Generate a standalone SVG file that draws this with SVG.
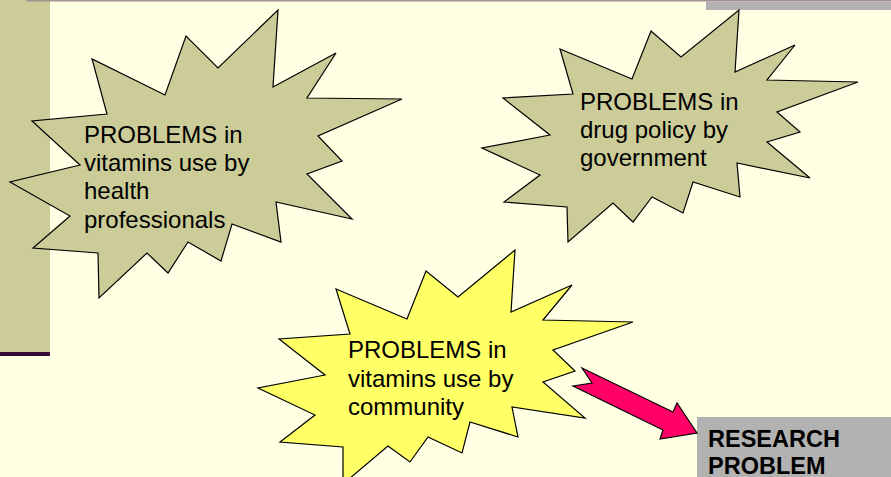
<svg xmlns="http://www.w3.org/2000/svg" width="891" height="477" viewBox="0 0 891 477">
  <style>
    .burst { stroke: #000000; stroke-width: 1.2; stroke-linejoin: miter; }
    .olive { fill: #CCCC99; }
    .lemon { fill: #FFFF66; }
    .label { font-family: "Liberation Sans", Arial, sans-serif; font-size: 24px; fill: #000000; }
    .title { font-family: "Liberation Sans", Arial, sans-serif; font-size: 23.5px; font-weight: bold; fill: #000000; }
  </style>

  <!-- slide background and frame -->
  <rect x="0" y="0" width="891" height="477" fill="#FFFFE4"/>
  <rect x="0" y="0" width="50" height="352" fill="#CCCC99"/>
  <rect x="0" y="352" width="50" height="4" fill="#3A0A3A"/>
  <rect x="26" y="0" width="865" height="1.5" fill="#A39393"/>
  <rect x="706" y="1.5" width="185" height="8.5" fill="#B2B2B2"/>

  <g id="burst-health-professionals">
    <polygon class="burst olive" points="278,10 273,87 336,53 307,98 402,99 318,136 342,161 307,174 352,219 276,202 281,242 232,224 221,261 188,242 168,273 147,253 99,298 98,253 33,248 70,216 10,182 80,165 32,121 107,114 92,59 165,95 186,36 218,68"/>
    <text class="label" x="84" y="143">PROBLEMS in</text>
    <text class="label" x="84" y="171">vitamins use by</text>
    <text class="label" x="84" y="199">health</text>
    <text class="label" x="84" y="228">professionals</text>
  </g>

  <g id="burst-drug-policy">
    <polygon class="burst olive" points="739,10 735,72 795,45 767,80 858,82 777,112 800,132 767,142 810,178 737,163 740,197 693,182 683,213 652,197 633,222 613,203 568,242 567,207 504,202 540,175 482,148 550,135 503,98 573,94 560,49 632,79 651,31 681,57"/>
    <text class="label" x="580" y="110">PROBLEMS in</text>
    <text class="label" x="580" y="138">drug policy by</text>
    <text class="label" x="580" y="166">government</text>
  </g>

  <g id="burst-community">
    <polygon class="burst lemon" points="515,250 511,312 572,285 543,320 633,322 553,350 575,371 543,382 585,418 512,407 518,437 470,422 462,453 428,437 410,462 388,446 343,484 343,447 280,442 315,415 258,388 325,375 279,339 350,334 336,289 407,319 426,271 458,297"/>
    <text class="label" x="348" y="358">PROBLEMS in</text>
    <text class="label" x="348" y="387">vitamins use by</text>
    <text class="label" x="348" y="415">community</text>
  </g>

  <g id="research-problem">
    <rect x="697" y="417" width="194" height="60" fill="#B2B2B2"/>
    <text class="title" x="708" y="447">RESEARCH</text>
    <text class="title" x="708" y="474">PROBLEM</text>
  </g>

  <g id="connectors">
    <polygon points="582,368 673,412 677,403 697,433 660,439 663,430 573,386 592,383" fill="#FF0066" stroke="#000000" stroke-width="1.2" stroke-linejoin="miter"/>
  </g>
</svg>
